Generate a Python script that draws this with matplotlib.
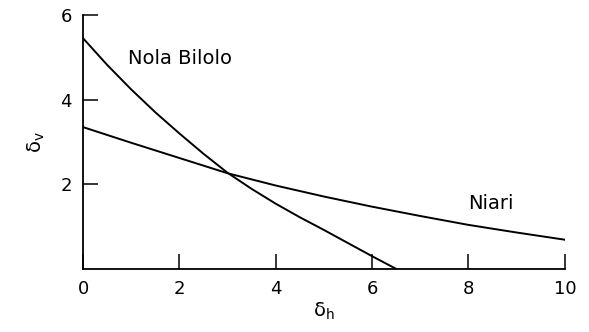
import matplotlib.pyplot as plt

plt.rcParams['font.family'] = ['DejaVu Sans']
plt.rcParams['mathtext.fontset'] = 'dejavusans'

# values
nola_x = [0, 0.5, 1, 1.5, 2, 2.5, 3, 3.5, 4, 4.5, 5, 5.5, 6, 6.5]
nola_y = [5.45, 4.82, 4.24, 3.7, 3.2, 2.72, 2.27, 1.89, 1.54, 1.22, 0.92, 0.61, 0.3, 0.0]
niari_x = [0, 1, 2, 3, 4, 5, 6, 7, 8, 9, 10]
niari_y = [3.35, 2.98, 2.62, 2.26, 1.97, 1.71, 1.47, 1.25, 1.04, 0.86, 0.69]
xticks = [0, 2, 4, 6, 8, 10]
yticks = [2, 4, 6]

fig = plt.figure(figsize=(5.89, 3.32), dpi=100)
ax = fig.add_axes([0.141, 0.19, 0.818, 0.765])

ax.plot(nola_x, nola_y, color='black', lw=1.4)
ax.plot(niari_x, niari_y, color='black', lw=1.4)

ax.text(0.93, 4.96, 'Nola Bilolo', fontsize=14, va='center')
ax.text(7.99, 1.55, 'Niari', fontsize=14, va='center')

ax.set_xlim(0, 10)
ax.set_ylim(0, 6)
ax.set_xticks(xticks)
ax.set_yticks(yticks)
ax.tick_params(direction='in', length=11, width=1.1, labelsize=13, pad=8)
ax.spines['top'].set_visible(False)
ax.spines['right'].set_visible(False)
for s in ('left', 'bottom'):
    ax.spines[s].set_linewidth(1.3)

ax.set_xlabel('δ$_\\mathrm{h}$', fontsize=14, labelpad=2)
ax.set_ylabel('δ$_\\mathrm{v}$', fontsize=14, labelpad=10)

fig.savefig('out.png', dpi=100)
